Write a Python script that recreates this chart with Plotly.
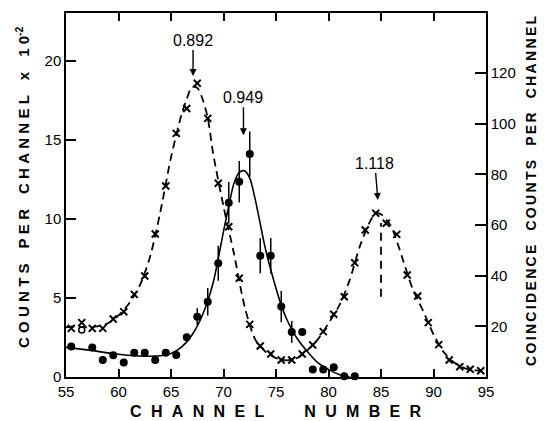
import plotly.graph_objects as go

# ---- data ----
singles_ch = [55.5, 56.5, 57.5, 58.5, 59.5, 60.5, 61.5, 62.5, 63.5, 64.5,
              65.5, 66.5, 67.5, 68.5, 69.5, 70.5, 71.5, 72.5, 73.5, 74.5,
              75.5, 76.5, 77.5, 78.5, 79.5, 80.5, 81.5, 82.5, 83.5, 84.5,
              85.5, 86.5, 87.5, 88.5, 89.5, 90.5, 91.5, 92.5, 93.5, 94.5]
singles = [3.08, 3.44, 3.08, 3.08, 3.67, 4.13, 5.23, 6.39, 9.05, 12.09,
           15.42, 17.0, 18.59, 16.37, 12.26, 9.51, 6.25, 3.33, 1.96, 1.46,
           1.08, 1.08, 1.46, 2.03, 2.87, 3.97, 5.08, 7.23, 9.3, 10.36,
           9.73, 9.03, 6.46, 5.13, 3.44, 2.05, 1.08, 0.65, 0.49, 0.40]

# dashed fitted curve through the singles
singles_fit_ch = [55, 56, 57, 58, 59, 60, 61, 62, 63, 64, 65, 66, 66.5, 67, 67.5,
                  68, 68.5, 69, 70, 71, 72, 73, 74, 75, 76, 77, 78, 79, 80, 81,
                  82, 83, 84, 84.5, 85, 85.5, 86, 87, 88, 89, 90, 91, 92, 93,
                  94, 94.6]
singles_fit = [3.15, 3.2, 3.15, 3.2, 3.4, 3.9, 4.65, 5.75, 7.6, 10.5, 13.9, 16.6,
               17.6, 18.35, 18.3, 17.6, 16.4, 14.2, 10.8, 7.8, 4.5, 2.4, 1.6,
               1.2, 1.05, 1.2, 1.7, 2.4, 3.4, 4.5, 6.1, 8.3, 9.9, 10.35, 10.3,
               9.95, 9.5, 7.6, 5.6, 4.2, 2.7, 1.55, 0.9, 0.55, 0.42, 0.38]

alt_ch = [56.5]
alt_val = [2.97]

coinc_ch = [55.5, 57.5, 58.5, 59.5, 60.5, 61.5, 62.5, 63.5, 64.5, 65.5,
            66.5, 67.5, 68.5, 69.5, 70.5, 71.5, 72.5, 73.5, 74.5, 75.5,
            76.5, 77.5, 78.5, 79.5, 80.5, 81.5, 82.5]
coinc = [12.0, 11.6, 6.7, 8.6, 5.7, 9.6, 9.6, 6.7, 9.6, 8.7,
         15.7, 23.8, 29.7, 44.9, 68.8, 77.1, 88.0, 47.9, 47.9, 27.8,
         17.8, 17.8, 3.0, 3.0, 3.8, 0.3, 0.3]
coinc_err = [0, 0, 0, 0, 0, 0, 0, 0, 0, 0,
             0, 3.3, 5.4, 6.9, 8.2, 8.2, 8.9, 6.9, 7.0, 6.2,
             4.3, 0, 0, 0, 0, 0, 0]

fit_ch = [55, 57, 60, 62, 64, 65, 66, 67, 68, 69, 70, 70.5, 71, 71.5, 72,
          72.5, 73, 74, 75, 75.5, 76, 77, 78, 79, 80, 81, 82]
fit_val = [11.7, 10.7, 9.0, 8.3, 8.4, 9.3, 11.8, 16.6, 24.5, 37.0, 57.5, 67.5,
           76.5, 80.8, 81.4, 78.5, 70.5, 50.5, 35.0, 28.3, 23.0, 15.3, 10.0,
           5.6, 3.0, 1.0, 0.1]

marker_line_ch = [85, 85]
marker_line_val = [5.08, 9.75]

peak_labels = ["0.892", "0.949", "1.118"]
peak_ch = [67.1, 71.9, 84.7]
peak_tip = [19.05, 15.3, 11.2]
peak_ax = [0, 0, -3]
peak_ay = [-36, -38, -37]

x_ticks = [55, 60, 65, 70, 75, 80, 85, 90, 95]
y_ticks = [0, 5, 10, 15, 20]
y2_ticks = [20, 40, 60, 80, 100, 120]

FONT = "Liberation Sans"


def spaced(text, sep="\u2009", word_sep="\u2002\u2002"):
    words = text.split(" ")
    return word_sep.join(sep.join(list(w)) for w in words)


fig = go.Figure()

# singles (dashed curve + x markers), left axis
fig.add_trace(go.Scatter(
    x=singles_fit_ch, y=singles_fit, mode="lines",
    line=dict(color="black", width=1.8, dash="8px,5px", shape="spline", smoothing=0.8),
    hoverinfo="skip", showlegend=False))
fig.add_trace(go.Scatter(
    x=singles_ch, y=singles, mode="markers",
    marker=dict(symbol="x-thin", size=7, line=dict(color="black", width=2)),
    showlegend=False, cliponaxis=False))
fig.add_trace(go.Scatter(
    x=alt_ch, y=alt_val, mode="markers",
    marker=dict(symbol="circle-open", size=6, color="black", line=dict(width=1.5)),
    showlegend=False))
fig.add_trace(go.Scatter(
    x=marker_line_ch, y=marker_line_val, mode="lines",
    line=dict(color="black", width=1.8, dash="8px,6px"), showlegend=False))

# coincidence (solid fit + dots), right axis
fig.add_trace(go.Scatter(
    x=fit_ch, y=fit_val, yaxis="y2", mode="lines",
    line=dict(color="black", width=1.6, shape="spline", smoothing=0.8),
    showlegend=False))
fig.add_trace(go.Scatter(
    x=coinc_ch, y=coinc, yaxis="y2", mode="markers",
    marker=dict(symbol="circle", size=8, color="black"),
    error_y=dict(type="data", array=coinc_err, visible=True, color="black",
                 thickness=1.5, width=0),
    showlegend=False, cliponaxis=False))

annotations = []
for lab, cx, tip, ax, ay in zip(peak_labels, peak_ch, peak_tip, peak_ax, peak_ay):
    annotations.append(dict(
        x=cx, y=tip, xref="x", yref="y", text=lab, showarrow=True,
        ax=ax, ay=ay, arrowhead=2, arrowsize=1, arrowwidth=1.4,
        arrowcolor="black", standoff=0,
        font=dict(family=FONT, size=16, color="black")))

annotations.append(dict(
    x=0.5, y=0, xref="paper", yref="paper", yshift=-34, xshift=0,
    text=spaced("CHANNEL NUMBER", sep="\u2002\u200a", word_sep="\u2003\u2003\u2002"),
    showarrow=False, yanchor="middle",
    font=dict(family=FONT, size=16, color="black", weight="bold")))
annotations.append(dict(
    x=0, y=0.5, xref="paper", yref="paper", xshift=-44, yshift=8,
    text=spaced("COUNTS PER CHANNEL x 10", sep="\u2009\u200a",
                word_sep="\u2002\u2002") + "<sup>-2</sup>",
    textangle=-90, showarrow=False, xanchor="center",
    font=dict(family=FONT, size=15, color="black", weight="bold")))
annotations.append(dict(
    x=1, y=0.5, xref="paper", yref="paper", xshift=45, yshift=4,
    text=spaced("COINCIDENCE COUNTS PER CHANNEL", sep="\u200a\u200a"),
    textangle=-90, showarrow=False, xanchor="center",
    font=dict(family=FONT, size=14, color="black", weight="bold")))

fig.update_layout(
    width=544, height=421,
    margin=dict(l=66, r=58, t=13, b=44),
    paper_bgcolor="white", plot_bgcolor="white",
    font=dict(family=FONT, size=15, color="black"),
    xaxis=dict(range=[55, 95], tickvals=x_ticks, ticks="inside", ticklen=8,
               tickwidth=1.5, tickcolor="black", showline=True, linecolor="black",
               linewidth=1.5, mirror="ticks", showgrid=False, zeroline=False,
               tickfont=dict(family=FONT, size=15)),
    yaxis=dict(range=[0, 23.04], tickvals=y_ticks, ticks="inside", ticklen=10,
               tickwidth=1.5, tickcolor="black", showline=True, linecolor="black",
               linewidth=1.5, showgrid=False, zeroline=False,
               tickfont=dict(family=FONT, size=15)),
    yaxis2=dict(range=[0, 143.7], tickvals=y2_ticks, overlaying="y", side="right",
                ticks="inside", ticklen=11, tickwidth=1.5, tickcolor="black",
                showline=True, linecolor="black", linewidth=1.5, showgrid=False,
                zeroline=False, tickfont=dict(family=FONT, size=15)),
    annotations=annotations,
)

fig.write_html("out.html")
